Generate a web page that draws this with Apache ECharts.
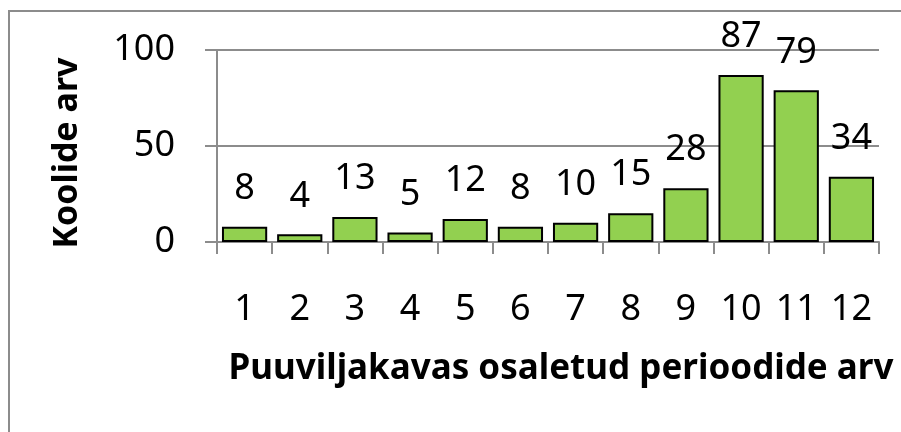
<!DOCTYPE html>
<html>
<head>
<meta charset="utf-8">
<script src="https://cdn.jsdelivr.net/npm/echarts@6/dist/echarts.min.js"></script>
<style>
  html, body { margin: 0; padding: 0; background: #fff; }
  #chart { width: 901px; height: 432px; }
</style>
</head>
<body>
<div id="chart"></div>
<script>
// perioodide arv ja koolide arv
var periods = ["1", "2", "3", "4", "5", "6", "7", "8", "9", "10", "11", "12"];
var schools = [8, 4, 13, 5, 12, 8, 10, 15, 28, 87, 79, 34];
var yTicks = [0, 50, 100];

var font = "'Noto Sans', 'DejaVu Sans', sans-serif";
var chart = echarts.init(document.getElementById("chart"));

var option = {
  animation: false,
  graphic: [
    {
      type: "rect",
      shape: { x: 9, y: 11, width: 1000, height: 1000 },
      style: { fill: "none", stroke: "#8c8c8c", lineWidth: 2 }
    }
  ],
  grid: {
    left: 217,
    right: 22,
    top: 50,
    bottom: 190
  },
  xAxis: {
    type: "category",
    data: periods,
    name: "Puuviljakavas osaletud perioodide arv",
    nameLocation: "middle",
    nameGap: 110,
    nameTextStyle: {
      fontFamily: font,
      fontWeight: "bold",
      fontSize: 35,
      color: "#000",
      padding: [0, 0, 0, 26]
    },
    axisLine: { lineStyle: { color: "#8c8c8c", width: 2 } },
    axisTick: { show: true, length: 12, lineStyle: { color: "#8c8c8c", width: 2 } },
    axisLabel: {
      fontFamily: font,
      fontSize: 36,
      color: "#000",
      margin: 50
    }
  },
  yAxis: {
    type: "value",
    min: 0,
    max: 100,
    interval: 50,
    name: "Koolide arv",
    nameLocation: "middle",
    nameGap: 133,
    nameTextStyle: {
      fontFamily: font,
      fontWeight: "bold",
      fontSize: 34,
      color: "#000",
      padding: [0, 14, 0, 0]
    },
    axisLine: { show: true, lineStyle: { color: "#8c8c8c", width: 2 } },
    axisTick: { show: true, length: 12, lineStyle: { color: "#8c8c8c", width: 2 } },
    splitLine: { lineStyle: { color: "#8c8c8c", width: 2 } },
    axisLabel: {
      fontFamily: font,
      fontSize: 36,
      color: "#000",
      margin: 42,
      customValues: yTicks
    }
  },
  series: [
    {
      type: "bar",
      data: schools,
      barCategoryGap: "18%",
      itemStyle: {
        color: "#92d050",
        borderColor: "#000",
        borderWidth: 2
      },
      label: {
        show: true,
        position: "top",
        distance: 20,
        fontFamily: font,
        fontSize: 36,
        color: "#000"
      }
    }
  ]
};

chart.setOption(option);
</script>
</body>
</html>
